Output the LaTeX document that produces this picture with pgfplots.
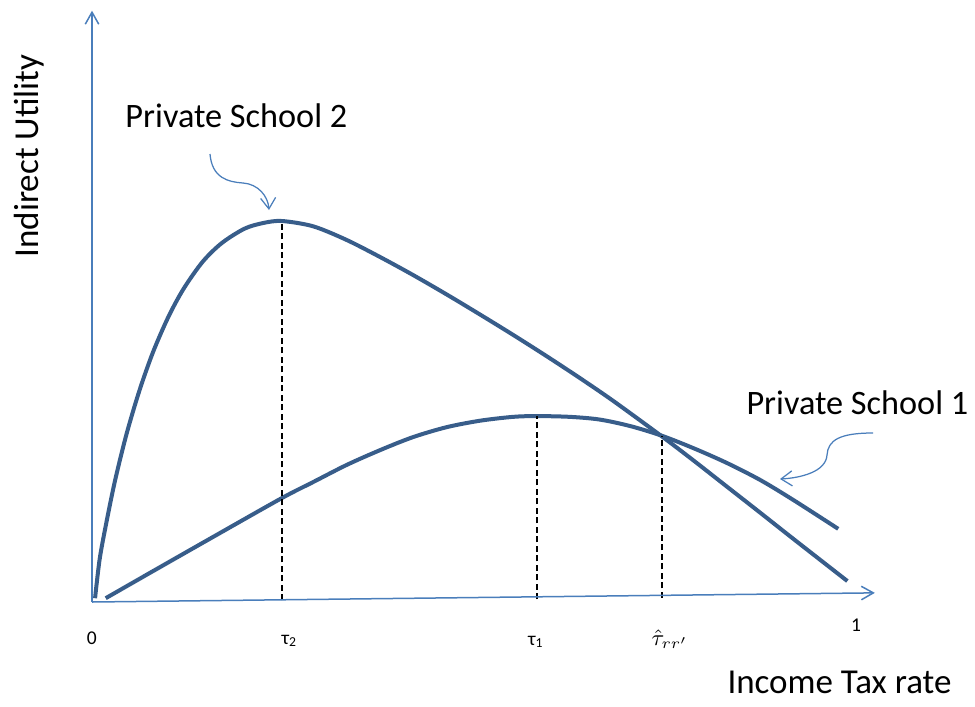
\documentclass[border=0pt]{standalone}
\usepackage{fontspec}
\setmainfont{Carlito}
\usepackage{pgfplots}
\pgfplotsset{compat=1.18}
\usetikzlibrary{arrows.meta}

\definecolor{curveblue}{HTML}{385D8A}
\definecolor{lineblue}{HTML}{4A7EBB}

\begin{document}
\begin{tikzpicture}
\begin{axis}[
  width=390pt, height=282.4pt, scale only axis,
  xmin=-0.12058, xmax=1.15727,
  ymin=-0.27297, ymax=1.58005,
  hide axis, clip=false,
]
% private school 2
\addplot[curveblue, line width=1.6pt, smooth] coordinates {
  (0.004,0.010) (0.010,0.112) (0.018,0.200) (0.030,0.317)
  (0.045,0.439) (0.062,0.554) (0.080,0.656) (0.100,0.748)
  (0.120,0.822) (0.145,0.893) (0.170,0.942) (0.200,0.980)
  (0.225,0.995) (0.249,1.000) (0.290,0.986) (0.334,0.950)
  (0.378,0.905) (0.421,0.858) (0.465,0.807) (0.509,0.754)
  (0.552,0.701) (0.596,0.645) (0.640,0.587) (0.683,0.528)
  (0.746,0.436) (0.788,0.372) (0.832,0.303) (0.876,0.234)
  (0.919,0.166) (0.990,0.055)
};
% private school 1
\addplot[curveblue, line width=1.6pt, smooth] coordinates {
  (0.018,0.010) (0.079,0.080) (0.165,0.178) (0.249,0.273)
  (0.290,0.315) (0.334,0.360) (0.378,0.399) (0.421,0.433)
  (0.465,0.459) (0.509,0.476) (0.552,0.486) (0.583,0.488)
  (0.626,0.486) (0.665,0.479) (0.705,0.462) (0.746,0.437)
  (0.788,0.404) (0.832,0.365) (0.876,0.320) (0.919,0.268)
  (0.978,0.192)
};

% optima and crossing
\draw[black, line width=0.6pt, dash pattern=on 2.4pt off 1.4pt]
  (axis cs:0.249,0.004) -- (axis cs:0.249,1.000)
  (axis cs:0.583,0.007) -- (axis cs:0.583,0.488)
  (axis cs:0.747,0.011) -- (axis cs:0.747,0.436);

% axes
\draw[lineblue, line width=0.6pt, -{Straight Barb[length=4.8pt,width=5.4pt]}]
  (axis cs:0,0) -- (axis cs:0,1.552);
\draw[lineblue, line width=0.6pt, -{Straight Barb[length=4.8pt,width=5.4pt]}]
  (axis cs:0,0) -- (axis cs:1.026,0.024);

\coordinate (TL) at (rel axis cs:0,1);
\path (rel axis cs:0,0) rectangle (rel axis cs:1,1);
\end{axis}

% labels and pointers, in pixel units from the top left corner
\begin{scope}[shift={(TL)}, x=0.4pt, y=-0.4pt]
  \node[rotate=90, anchor=base west, inner sep=0pt, font=\fontsize{14}{17}\selectfont]
    at (38.5,258) {Indirect Utility};
  \node[anchor=base west, inner sep=0pt, font=\fontsize{13.7}{16}\selectfont]
    at (125,127) {Private School 2};
  \node[anchor=base west, inner sep=0pt, font=\fontsize{13.7}{16}\selectfont]
    at (746,414) {Private School 1};
  \node[anchor=base west, inner sep=0pt, font=\fontsize{14}{17}\selectfont]
    at (727,693) {Income Tax rate};

  \node[anchor=base, inner sep=0pt, font=\fontsize{7.8}{9}\selectfont] at (91.7,644) {0};
  \node[anchor=base west, inner sep=0pt, font=\fontsize{7.8}{9}\selectfont] at (281,644) {τ\textsubscript{2}};
  \node[anchor=base west, inner sep=0pt, font=\fontsize{7.8}{9}\selectfont] at (527.5,645) {τ\textsubscript{1}};
  \node[anchor=base west, inner sep=0pt, font=\fontsize{8.6}{10}\selectfont] at (651,645) {$\hat{\tau}_{rr'}$};
  \node[anchor=base, inner sep=0pt, font=\fontsize{7.8}{9}\selectfont] at (856,631) {1};

  \draw[lineblue, line width=0.5pt, -{Straight Barb[length=4.4pt,width=6pt]}]
    (210,154) .. controls (212,178) and (228,182) .. (243,183)
    .. controls (258,184) and (268,196) .. (269,210);
  \draw[lineblue, line width=0.5pt, -{Straight Barb[length=4.4pt,width=6pt]}]
    (873,433) .. controls (840,433) and (828,440) .. (827,455)
    .. controls (826,472) and (800,478) .. (780,479);
\end{scope}
\end{tikzpicture}
\end{document}
